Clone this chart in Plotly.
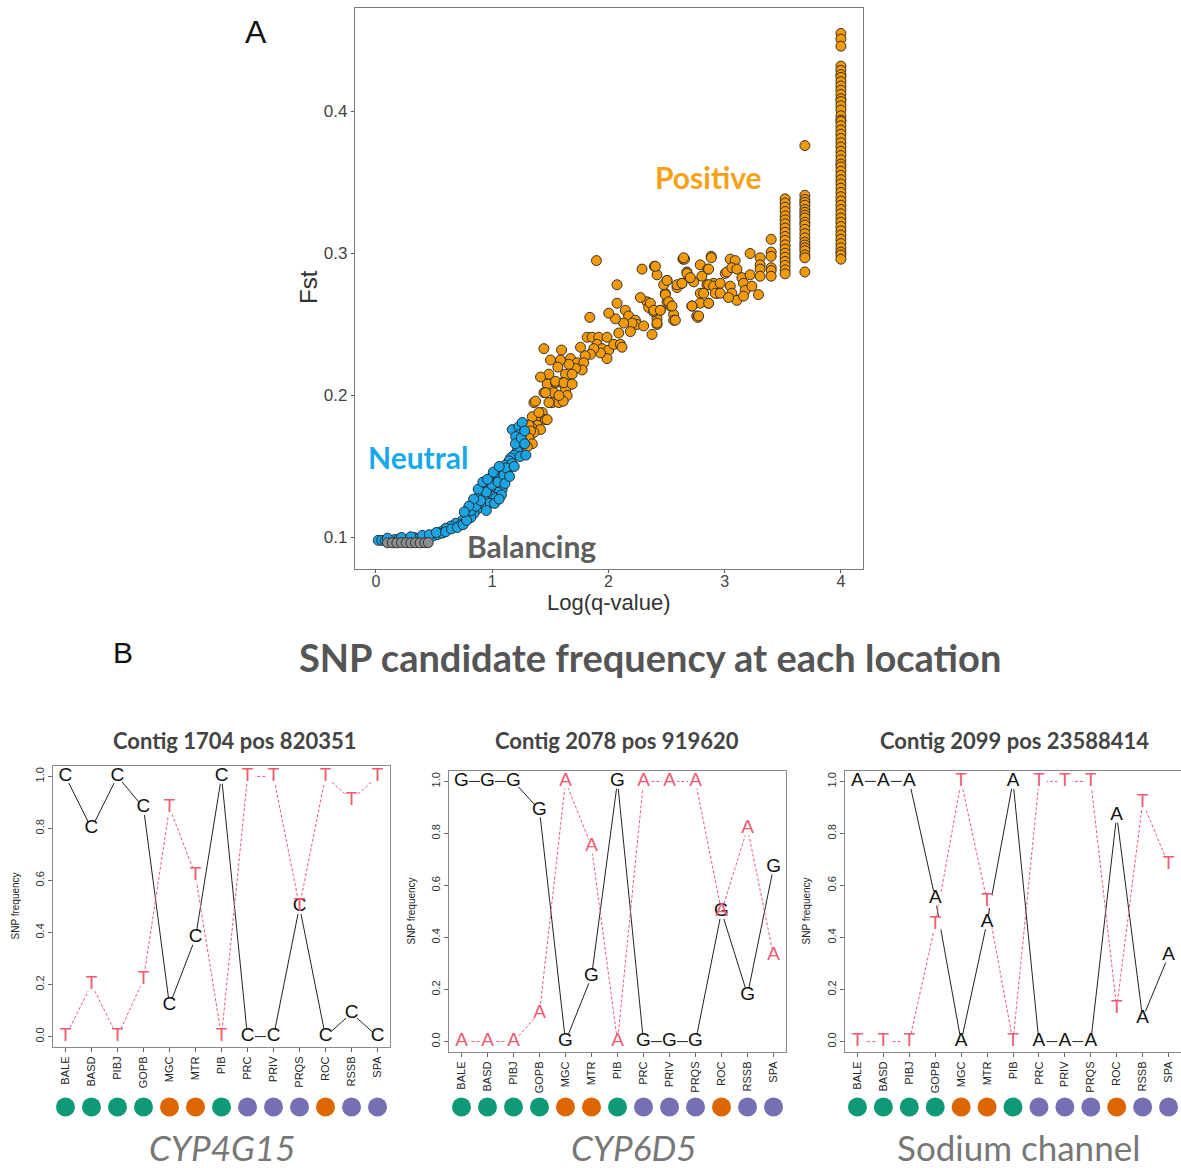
import plotly.graph_objects as go

W, H = 1181, 1168

# ---------------- Panel A data (Log(q-value), Fst) ----------------
orange_cloud = [
    (1.897, 0.295), (2.074, 0.278), (2.289, 0.289), (2.395, 0.291), (2.418, 0.285),
    (2.504, 0.281), (2.641, 0.296), (2.655, 0.296), (2.790, 0.292), (2.884, 0.298),
    (2.855, 0.289), (2.675, 0.287), (2.690, 0.284), (2.733, 0.280), (2.632, 0.279),
    (2.590, 0.276), (2.804, 0.284), (2.847, 0.278), (2.904, 0.279), (2.933, 0.272),
    (2.790, 0.272), (2.860, 0.265), (2.790, 0.265), (2.718, 0.263), (2.760, 0.256),
    (2.769, 0.255), (2.489, 0.272), (2.475, 0.278), (2.504, 0.266), (2.532, 0.263),
    (2.561, 0.257), (2.561, 0.253), (2.446, 0.260), (2.418, 0.254), (2.418, 0.250),
    (2.332, 0.266), (2.275, 0.269), (2.346, 0.262), (2.389, 0.259), (2.375, 0.243),
    (2.074, 0.265), (2.146, 0.260), (2.174, 0.256), (2.232, 0.253), (2.246, 0.250),
    (2.203, 0.251), (2.303, 0.249), (2.131, 0.251), (2.060, 0.254), (2.003, 0.258),
    (1.840, 0.255), (2.089, 0.244), (2.189, 0.245), (1.817, 0.241), (1.860, 0.241),
    (1.917, 0.241), (1.988, 0.241), (1.903, 0.236), (1.946, 0.233), (2.003, 0.232),
    (2.046, 0.236), (2.103, 0.236), (2.117, 0.234), (1.988, 0.226), (1.931, 0.230),
    (1.874, 0.233), (1.846, 0.229), (1.800, 0.228), (1.760, 0.234), (1.674, 0.226),
    (1.731, 0.223), (1.788, 0.223), (1.774, 0.218), (1.717, 0.219), (1.660, 0.222),
    (1.588, 0.225), (1.502, 0.225), (1.445, 0.233), (1.597, 0.232), (1.565, 0.220),
    (1.631, 0.215), (1.688, 0.215), (1.488, 0.215), (1.416, 0.213), (1.474, 0.208),
    (1.545, 0.209), (1.602, 0.209), (1.674, 0.208), (1.631, 0.204), (1.645, 0.200),
    (1.445, 0.202), (1.531, 0.202), (1.516, 0.195), (1.574, 0.195), (1.611, 0.196),
    (1.488, 0.195), (1.359, 0.195), (1.431, 0.188), (1.373, 0.184), (1.459, 0.183),
    (1.388, 0.179), (1.345, 0.177), (1.416, 0.176), (1.359, 0.174), (1.302, 0.179),
    (1.345, 0.185), (1.402, 0.188), (1.473, 0.183), (1.316, 0.179), (1.330, 0.175),
    (1.316, 0.170), (1.345, 0.166), (1.302, 0.164), (1.545, 0.210), (1.617, 0.209),
    (1.688, 0.208), (1.574, 0.200), (1.459, 0.202), (1.373, 0.196),
    (2.404, 0.291), (2.504, 0.281), (2.361, 0.265), (2.390, 0.260), (2.418, 0.251),
    (2.447, 0.260), (2.490, 0.271), (2.518, 0.266), (2.547, 0.263), (2.576, 0.253),
    (2.590, 0.278), (2.633, 0.279), (2.647, 0.297), (2.676, 0.286), (2.704, 0.283),
    (2.862, 0.289), (2.885, 0.297), (2.862, 0.278), (2.819, 0.272), (2.862, 0.265),
    (2.719, 0.263), (2.776, 0.256), (2.905, 0.277), (2.962, 0.279), (2.919, 0.272),
    (2.962, 0.272), (3.005, 0.286), (3.019, 0.287), (3.048, 0.296), (3.090, 0.295),
    (3.062, 0.290), (3.105, 0.289), (3.048, 0.277), (3.062, 0.272), (3.105, 0.267),
    (3.033, 0.269), (3.148, 0.283), (3.162, 0.279), (3.176, 0.274), (3.162, 0.270),
    (3.219, 0.300), (3.219, 0.285), (3.234, 0.277), (3.305, 0.297), (3.305, 0.292),
    (3.305, 0.289), (3.305, 0.284), (3.291, 0.271),
]
orange_col340_y = [0.310, 0.301, 0.298, 0.290, 0.288, 0.284]
orange_col352_y = [0.3385, 0.3355, 0.3326, 0.3296, 0.3265, 0.3237, 0.3209, 0.3179,
                   0.3150, 0.3120, 0.3092, 0.3061, 0.3031, 0.3002, 0.2974, 0.2944,
                   0.2916, 0.2885, 0.2857]
orange_col369_y = [0.341, 0.338, 0.336, 0.334, 0.331, 0.329, 0.327, 0.325, 0.322,
                   0.320, 0.317, 0.314, 0.311, 0.308, 0.306, 0.304, 0.302, 0.299,
                   0.297, 0.287, 0.376]
orange_col400_y = [0.455, 0.451, 0.446, 0.432, 0.429, 0.426, 0.424, 0.421, 0.418,
                   0.415, 0.412, 0.409, 0.407, 0.404, 0.401, 0.397, 0.394, 0.393,
                   0.390, 0.387, 0.384, 0.381, 0.378, 0.375, 0.372, 0.369, 0.366,
                   0.363, 0.361, 0.358, 0.355, 0.352, 0.349, 0.346, 0.343, 0.340,
                   0.337, 0.334, 0.331, 0.328, 0.325, 0.322, 0.319, 0.316, 0.313,
                   0.310, 0.307, 0.304, 0.301, 0.299, 0.296]
orange_cols_x = [3.40, 3.52, 3.69, 4.00]

blue_pts = [
    (1.173, 0.176), (1.230, 0.178), (1.259, 0.181), (1.245, 0.173), (1.202, 0.171),
    (1.259, 0.168), (1.230, 0.164), (1.216, 0.161), (1.187, 0.158), (1.159, 0.156),
    (1.145, 0.154), (1.116, 0.151), (1.173, 0.152), (1.087, 0.148), (1.130, 0.147),
    (1.044, 0.144), (1.001, 0.143), (1.059, 0.141), (1.030, 0.138), (1.073, 0.137),
    (1.087, 0.134), (1.044, 0.132), (0.973, 0.139), (0.944, 0.136), (0.987, 0.135),
    (0.916, 0.132), (0.959, 0.130), (1.001, 0.129), (1.030, 0.128), (0.887, 0.129),
    (0.930, 0.127), (0.973, 0.124), (0.858, 0.125), (0.901, 0.123), (0.830, 0.122),
    (0.873, 0.120), (0.801, 0.118), (0.844, 0.117), (0.772, 0.115), (0.816, 0.114),
    (0.744, 0.112), (0.687, 0.110), (0.730, 0.109), (0.644, 0.108), (0.600, 0.1065),
    (0.558, 0.104), (0.515, 0.103), (0.020, 0.098), (0.050, 0.098), (0.080, 0.0978),
    (0.120, 0.098), (0.160, 0.0985), (0.200, 0.099), (0.250, 0.0985), (0.290, 0.099),
    (0.330, 0.100), (0.370, 0.0995), (0.410, 0.100), (0.450, 0.1005), (0.490, 0.101),
    (0.530, 0.102), (0.570, 0.103), (0.100, 0.0995), (0.220, 0.100), (0.300, 0.1005),
    (0.400, 0.1015), (0.460, 0.102), (0.520, 0.1035), (0.600, 0.104), (0.650, 0.106),
    (0.700, 0.107), (0.750, 0.109), (0.780, 0.112), (0.820, 0.119), (0.860, 0.122),
    (0.900, 0.126), (0.950, 0.132), (1.000, 0.137), (1.050, 0.139), (1.100, 0.144),
    (1.120, 0.149), (1.200, 0.166), (1.250, 0.170), (1.280, 0.175),
    (0.880, 0.134), (0.920, 0.139), (0.960, 0.141), (1.010, 0.146), (1.060, 0.150),
    (0.840, 0.127), (0.800, 0.122), (0.760, 0.118), (0.950, 0.119), (1.020, 0.124),
    (1.080, 0.130), (1.110, 0.138), (1.150, 0.143), (1.190, 0.150), (1.240, 0.157),
    (1.280, 0.166), (1.290, 0.158), (1.060, 0.127),
]
gray_x = [0.10, 0.14, 0.18, 0.22, 0.26, 0.30, 0.34, 0.38, 0.42, 0.45]
gray_y = [0.0963, 0.0963, 0.0962, 0.0964, 0.0963, 0.0962, 0.0963, 0.0962, 0.0963, 0.0964]

# ---------------- Panel B data ----------------
populations = ["BALE", "BASD", "PIBJ", "GOPB", "MGC", "MTR", "PIB",
               "PRC", "PRIV", "PRQS", "ROC", "RSSB", "SPA"]
pop_group = ["g", "g", "g", "g", "o", "o", "g", "p", "p", "p", "o", "p", "p"]
group_colors = {"g": "#0E9A77", "o": "#DE6600", "p": "#7570B3"}

contig_titles = ["Contig 1704 pos 820351", "Contig 2078 pos 919620", "Contig 2099 pos 23588414"]
gene_names = ["<i>CYP4G15</i>", "<i>CYP6D5</i>", "Sodium channel"]

c1_letters = ("C", "T")
c1_major = [1.0, 0.80, 1.0, 0.88, 0.12, 0.38, 1.0, 0.0, 0.0, 0.50, 0.0, 0.09, 0.0]
c1_minor = [0.0, 0.20, 0.0, 0.22, 0.88, 0.62, 0.0, 1.0, 1.0, 0.50, 1.0, 0.91, 1.0]
c2_letters = ("G", "A")
c2_major = [1.0, 1.0, 1.0, 0.89, 0.0, 0.25, 1.0, 0.0, 0.0, 0.0, 0.50, 0.18, 0.67]
c2_minor = [0.0, 0.0, 0.0, 0.11, 1.0, 0.75, 0.0, 1.0, 1.0, 1.0, 0.50, 0.82, 0.33]
c3_letters = ("A", "T")
c3_major = [1.0, 1.0, 1.0, 0.55, 0.0, 0.46, 1.0, 0.0, 0.0, 0.0, 0.87, 0.09, 0.33]
c3_minor = [0.0, 0.0, 0.0, 0.45, 1.0, 0.54, 0.0, 1.0, 1.0, 1.0, 0.13, 0.92, 0.68]
yticks_b = [0.0, 0.2, 0.4, 0.6, 0.8, 1.0]

# ---------------- helpers ----------------
def fx(p):
    return p / W

def fy(p):
    return 1 - p / H

SANS = "Liberation Sans, Arial, sans-serif"
CAL = "Lato, Open Sans, sans-serif"

fig = go.Figure()

# ---------------- Panel A ----------------
ox = [p[0] for p in orange_cloud]
oy = [p[1] for p in orange_cloud]
for cx, ys in zip(orange_cols_x, [orange_col340_y, orange_col352_y, orange_col369_y, orange_col400_y]):
    ox += [cx] * len(ys)
    oy += ys

mk = dict(size=10, line=dict(color="#222222", width=0.9))
fig.add_trace(go.Scatter(x=ox, y=oy, mode="markers", xaxis="x", yaxis="y",
                         marker=dict(color="#F39A0A", **mk), showlegend=False, hoverinfo="skip"))
fig.add_trace(go.Scatter(x=[p[0] for p in blue_pts], y=[p[1] for p in blue_pts], mode="markers",
                         xaxis="x", yaxis="y", marker=dict(color="#1BA3E2", **mk),
                         showlegend=False, hoverinfo="skip"))
fig.add_trace(go.Scatter(x=gray_x, y=gray_y, mode="markers", xaxis="x", yaxis="y",
                         marker=dict(color="#8E8E8E", **mk), showlegend=False, hoverinfo="skip"))

axA = dict(showline=True, mirror=True, linecolor="#7A7A7A", linewidth=1.2, showgrid=False,
           zeroline=False, ticks="outside", ticklen=3, tickcolor="#555")
layout = dict(
    xaxis=dict(domain=[fx(355), fx(863)], range=[-0.18, 4.19], anchor="y",
               tickvals=[0, 1, 2, 3, 4], ticklabelstandoff=-5,
               tickfont=dict(family=SANS, size=16, color="#444444"), **axA),
    yaxis=dict(domain=[fy(569), fy(8)], range=[0.0778, 0.4729], anchor="x",
               tickvals=[0.1, 0.2, 0.3, 0.4], ticktext=["0.1", "0.2", "0.3", "0.4"],
               tickfont=dict(family=SANS, size=17, color="#444444"), **axA),
)

# ---------------- Panel B ----------------
b_boxes = [(53, 390, 766, 1047), (449, 786, 771, 1052), (845, 1181, 771, 1052)]
b_sets = [(c1_letters, c1_major, c1_minor), (c2_letters, c2_major, c2_minor),
          (c3_letters, c3_major, c3_minor)]
xidx = list(range(1, len(populations) + 1))
RED = "#EE5A72"
BLK = "#222222"

annotations = []
for i, ((l, r, t, b), (letters, major, minor)) in enumerate(zip(b_boxes, b_sets)):
    xa = "x%d" % (i + 2)
    ya = "y%d" % (i + 2)
    yd = "y%d" % (i + 5)
    fig.add_trace(go.Scatter(x=xidx, y=major, mode="lines", xaxis=xa, yaxis=ya,
                             line=dict(color=BLK, width=1), showlegend=False, hoverinfo="skip"))
    fig.add_trace(go.Scatter(x=xidx, y=minor, mode="lines", xaxis=xa, yaxis=ya,
                             line=dict(color=RED, width=1, dash="3px,2px"),
                             showlegend=False, hoverinfo="skip"))
    fig.add_trace(go.Scatter(x=xidx + xidx, y=major + minor, mode="markers", xaxis=xa, yaxis=ya,
                             marker=dict(color="white", size=15, line=dict(width=0)),
                             showlegend=False, hoverinfo="skip"))
    fig.add_trace(go.Scatter(x=xidx, y=major, mode="text", xaxis=xa, yaxis=ya,
                             text=[letters[0]] * len(xidx), textposition="middle center",
                             textfont=dict(family=SANS, size=19, color="#111111"),
                             showlegend=False, hoverinfo="skip"))
    fig.add_trace(go.Scatter(x=xidx, y=minor, mode="text", xaxis=xa, yaxis=ya,
                             text=[letters[1]] * len(xidx), textposition="middle center",
                             textfont=dict(family=SANS, size=19, color=RED),
                             showlegend=False, hoverinfo="skip"))
    fig.add_trace(go.Scatter(x=xidx, y=[0] * len(xidx), mode="markers", xaxis=xa, yaxis=yd,
                             marker=dict(color=[group_colors[g] for g in pop_group], size=19,
                                         line=dict(width=0)),
                             showlegend=False, hoverinfo="skip"))

    axB = dict(showline=True, mirror=True, linecolor="#8A8A8A", linewidth=1.2, showgrid=False,
               zeroline=False, ticks="outside", ticklen=4, tickcolor="#666")
    layout["xaxis%d" % (i + 2)] = dict(domain=[fx(l), min(fx(r), 1.0)], range=[0.52, 13.48],
                                       anchor=ya, tickvals=xidx, ticktext=populations,
                                       tickangle=-90,
                                       tickfont=dict(family=SANS, size=11, color="#222"), **axB)
    layout["yaxis%d" % (i + 2)] = dict(domain=[fy(b), fy(t)], range=[-0.04, 1.04], anchor=xa,
                                       tickvals=yticks_b, ticktext=["%.1f" % v for v in yticks_b],
                                       tickangle=-90,
                                       tickfont=dict(family=SANS, size=11, color="#333"), **axB)
    layout["yaxis%d" % (i + 5)] = dict(domain=[fy(1118), fy(1096)], range=[-1, 1], anchor=xa,
                                       visible=False, fixedrange=True)

    annotations.append(dict(text="<b>%s</b>" % contig_titles[i], x=fx([234, 617, 1014][i]),
                            y=fy(740), xref="paper", yref="paper", showarrow=False,
                            xanchor="center", yanchor="middle",
                            font=dict(family=CAL, size=22, color="#444444")))
    annotations.append(dict(text=gene_names[i], x=fx([222, 633, 1019][i]), y=fy(1147),
                            xref="paper", yref="paper", showarrow=False,
                            xanchor="center", yanchor="middle",
                            font=dict(family=CAL, size=35, color="#777777")))
    annotations.append(dict(text="SNP frequency", x=fx([15, 411, 806][i]), y=fy((t + b) / 2),
                            xref="paper", yref="paper", showarrow=False, textangle=-90,
                            xanchor="center", yanchor="middle",
                            font=dict(family=SANS, size=10, color="#222")))

# ---------------- text annotations ----------------
annotations += [
    dict(text="A", x=fx(256), y=fy(32), font=dict(family=SANS, size=32, color="#111")),
    dict(text="B", x=fx(123), y=fy(652), font=dict(family=SANS, size=30, color="#111")),
    dict(text="<b>SNP candidate frequency at each location</b>", x=fx(650), y=fy(657),
         font=dict(family=CAL, size=38, color="#555555")),
    dict(text="<b>Positive</b>", x=fx(708), y=fy(177), font=dict(family=CAL, size=30, color="#F5A21A")),
    dict(text="<b>Neutral</b>", x=fx(418), y=fy(457), font=dict(family=CAL, size=30, color="#19A8E8")),
    dict(text="<b>Balancing</b>", x=fx(531), y=fy(546), font=dict(family=CAL, size=30, color="#5E5E5E")),
    dict(text="Fst", x=fx(308), y=fy(287), textangle=-90, font=dict(family=SANS, size=24, color="#333")),
    dict(text="Log(q-value)", x=fx(609), y=fy(602), font=dict(family=SANS, size=22, color="#333")),
]
for a in annotations[-8:]:
    a.update(xref="paper", yref="paper", showarrow=False, xanchor="center", yanchor="middle")

layout.update(
    width=W, height=H, margin=dict(l=0, r=0, t=0, b=0),
    paper_bgcolor="white", plot_bgcolor="white", showlegend=False,
    annotations=annotations,
)
fig.update_layout(**layout)

fig.write_html("out.html", config={"displayModeBar": False},
               post_script="document.body.style.margin='0';document.body.style.overflow='hidden';")
